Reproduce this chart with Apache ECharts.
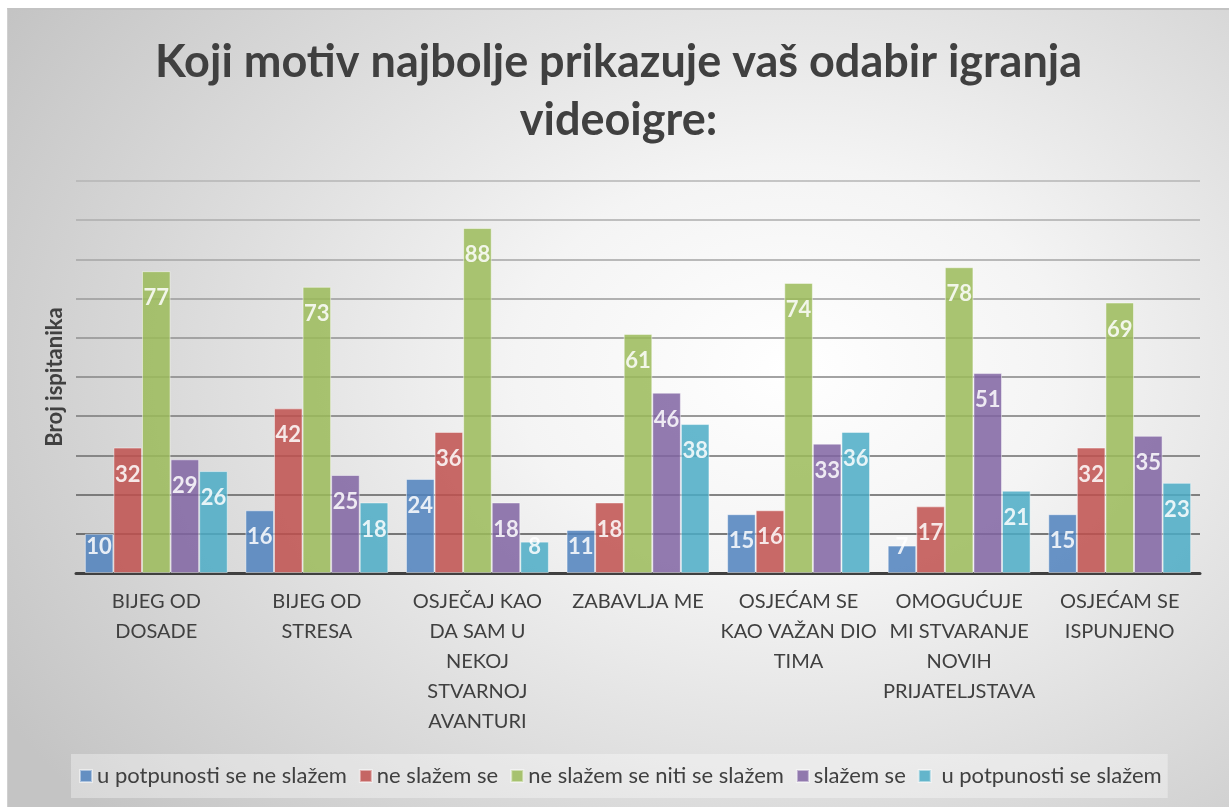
<!DOCTYPE html>
<html>
<head>
<meta charset="utf-8">
<script src="https://cdn.jsdelivr.net/npm/echarts@6/dist/echarts.min.js"></script>
<style>
  html, body { margin: 0; padding: 0; background: #ffffff; }
  #wrap {
    position: absolute; left: 7px; top: 8px; width: 1222px; height: 799px;
    border-top: 2px solid #c3c3c3; border-left: 1px solid #d0d0d0; box-sizing: border-box;
    background: radial-gradient(ellipse 75% 85% at 64% 45%, #ffffff 0%, #f4f4f4 30%, #dcdcdc 65%, #c4c4c4 100%);
  }
  #chart { width: 100%; height: 100%; }
</style>
</head>
<body>
<div id="wrap"><div id="chart"></div></div>
<script>
const titleText = "Koji motiv najbolje prikazuje vaš odabir igranja\nvideoigre:";
const yAxisName = "Broj ispitanika";
const categories = [
  "BIJEG OD\nDOSADE",
  "BIJEG OD\nSTRESA",
  "OSJEČAJ KAO\nDA SAM U\nNEKOJ\nSTVARNOJ\nAVANTURI",
  "ZABAVLJA ME",
  "OSJEĆAM SE\nKAO VAŽAN DIO\nTIMA",
  "OMOGUĆUJE\nMI STVARANJE\nNOVIH\nPRIJATELJSTAVA",
  "OSJEĆAM SE\nISPUNJENO"
];
const seriesNames = [
  "u potpunosti se ne slažem",
  "ne slažem se",
  "ne slažem se niti se slažem",
  "slažem se",
  " u potpunosti se slažem"
];
const uPotpunostiNe = [10, 16, 24, 11, 15, 7, 15];
const neSlazem = [32, 42, 36, 18, 16, 17, 32];
const niti = [77, 73, 88, 61, 74, 78, 69];
const slazem = [29, 25, 18, 46, 33, 51, 35];
const uPotpunostiDa = [26, 18, 8, 38, 36, 21, 23];
const allValues = [uPotpunostiNe, neSlazem, niti, slazem, uPotpunostiDa];
const colors = ['#4F81BD', '#C0504D', '#9BBB59', '#8064A2', '#4BACC6'];

const gridColors = ['#404040','#505050','#5e5e5e','#6c6c6c','#787878','#848484','#909090','#9a9a9a','#a4a4a4','#acacac','#b4b4b4'];

const chart = echarts.init(document.getElementById('chart'));
const font = 'Lato, "Open Sans", sans-serif';

const series = allValues.map((vals, i) => ({
  name: seriesNames[i],
  type: 'bar',
  barGap: '0%',
  barCategoryGap: '11%',
  itemStyle: { color: colors[i], opacity: 0.85, borderColor: 'rgba(255,255,255,0.55)', borderWidth: 1 },
  label: {
    show: true, position: 'insideTop', distance: 16,
    color: '#ffffff', fontFamily: font, fontWeight: 'bold', fontSize: 22
  },
  data: vals.map(v => v < 13
    ? { value: v, label: { position: 'insideBottom', distance: 15 } }
    : { value: v })
}));

chart.setOption({
  backgroundColor: 'transparent',
  animation: false,
  color: colors,
  title: {
    text: titleText,
    left: 'center',
    top: 18,
    textStyle: { fontFamily: font, fontWeight: 'bold', fontSize: 45, color: '#404040', lineHeight: 58 }
  },
  legend: {
    left: 63, top: 744,
    padding: [11, 6, 11, 8],
    backgroundColor: 'rgba(255,255,255,0.35)',
    itemWidth: 12, itemHeight: 12, itemGap: 12,
    icon: 'rect',
    textStyle: { fontFamily: font, fontSize: 22, color: '#404040' },
    data: seriesNames
  },
  grid: { left: 68, right: 29, top: 171, bottom: 234, containLabel: false },
  xAxis: {
    type: 'category',
    data: categories,
    axisLine: { show: true, lineStyle: { color: '#404040', width: 3 } },
    axisTick: { show: false },
    axisLabel: { fontFamily: font, fontSize: 20, color: '#404040', lineHeight: 30, margin: 14, interval: 0 }
  },
  yAxis: {
    type: 'value', min: 0, max: 100, interval: 10,
    name: yAxisName, nameLocation: 'middle', nameGap: 10,
    nameTextStyle: { fontFamily: font, fontWeight: 'bold', fontSize: 22, color: '#404040' },
    axisLine: { show: false }, axisTick: { show: false }, axisLabel: { show: false },
    splitLine: { lineStyle: { color: gridColors, width: 1.5 } }
  },
  series: series
});
</script>
</body>
</html>
